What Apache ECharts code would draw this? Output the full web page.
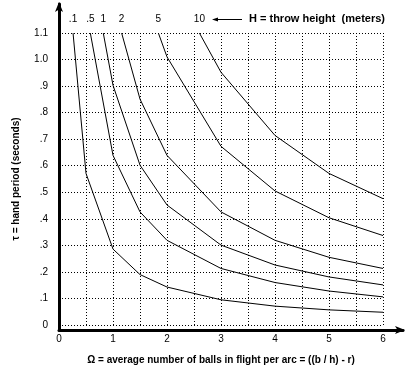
<!DOCTYPE html>
<html>
<head>
<meta charset="utf-8">
<script src="https://cdn.jsdelivr.net/npm/echarts@6/dist/echarts.min.js"></script>
<style>
html,body{margin:0;padding:0;background:#fff;}
#c{width:413px;height:370px;}
</style>
</head>
<body>
<div id="c"></div>
<script>
// Throw heights (meters) — curve labels
const heightLabels = ['.1', '.5', '1', '2', '5', '10'];

// Omega (x) and tau (y) points for each throw height
const omegaH01 = [0.26, 0.5, 1, 1.5, 2, 3, 4, 5, 6];
const tauH01   = [1.1, 0.571, 0.286, 0.19, 0.143, 0.095, 0.071, 0.057, 0.048];

const omegaH05 = [0.58, 1, 1.5, 2, 3, 4, 5, 6];
const tauH05   = [1.1, 0.639, 0.426, 0.319, 0.213, 0.16, 0.128, 0.106];

const omegaH1 = [0.82, 1, 1.5, 2, 3, 4, 5, 6];
const tauH1   = [1.1, 0.903, 0.602, 0.452, 0.301, 0.226, 0.181, 0.151];

const omegaH2 = [1.16, 1.5, 2, 3, 4, 5, 6];
const tauH2   = [1.1, 0.851, 0.639, 0.426, 0.319, 0.255, 0.213];

const omegaH5 = [1.84, 2, 3, 4, 5, 6];
const tauH5   = [1.1, 1.01, 0.673, 0.505, 0.404, 0.337];

const omegaH10 = [2.6, 3, 4, 5, 6];
const tauH10   = [1.1, 0.952, 0.714, 0.571, 0.476];

// Tick labels
const xTickValues = [0, 1, 2, 3, 4, 5, 6];
const xTickLabels = ['0', '1', '2', '3', '4', '5', '6'];
const yTickValues = [0, 0.1, 0.2, 0.3, 0.4, 0.5, 0.6, 0.7, 0.8, 0.9, 1.0, 1.1];
const yTickLabels = ['0', '.1', '.2', '.3', '.4', '.5', '.6', '.7', '.8', '.9', '1.0', '1.1'];

const xTitle = 'Ω = average number of balls in flight per arc = ((b / h) - r)';
const yTitle = 'τ = hand period (seconds)';
const legendText = 'H = throw height  (meters)';

const curves = [
  [omegaH01, tauH01], [omegaH05, tauH05], [omegaH1, tauH1],
  [omegaH2, tauH2], [omegaH5, tauH5], [omegaH10, tauH10]
];

const FONT = '"Liberation Sans Narrow", "Liberation Sans", Arial, sans-serif';
const PLAIN = '"Liberation Sans", Arial, sans-serif';

function lookup(vals, labels, v) {
  for (let i = 0; i < vals.length; i++) {
    if (Math.abs(vals[i] - v) < 1e-6) return labels[i];
  }
  return '';
}

const series = curves.map((c, i) => ({
  type: 'line',
  xAxisIndex: 0, yAxisIndex: 0,
  showSymbol: true,
  symbol: 'circle',
  symbolSize: 0,
  silent: true,
  lineStyle: { color: '#000', width: 1 },
  itemStyle: { color: '#000' },
  label: { show: false },
  data: c[0].map((x, j) => {
    const item = { value: [x, c[1][j]] };
    if (j === 0) {
      item.label = {
        show: true, position: 'top', distance: 9,
        formatter: heightLabels[i],
        color: '#000', fontSize: 10, fontFamily: PLAIN
      };
    }
    return item;
  })
}));

const dotted = { color: '#000', type: [1, 2], width: 1 };

const chart = echarts.init(document.getElementById('c'), null, { renderer: 'canvas' });
chart.setOption({
  animation: false,
  backgroundColor: '#fff',
  grid: [
    { left: 59, right: 30, top: 33, bottom: 40 },
    { left: 59, right: 10, top: 4, bottom: 40 }
  ],
  xAxis: [
    {
      gridIndex: 0, type: 'value', min: 0, max: 6, interval: 0.5,
      axisLine: { show: false }, axisTick: { show: false },
      splitLine: { show: true, lineStyle: dotted },
      axisLabel: {
        margin: 9, color: '#000', fontSize: 10, fontFamily: PLAIN,
        formatter: v => lookup(xTickValues, xTickLabels, v)
      },
      name: xTitle, nameLocation: 'middle', nameGap: 30,
      nameTextStyle: { color: '#000', fontSize: 10, fontWeight: 'bold', fontFamily: FONT }
    },
    {
      gridIndex: 1, type: 'value', min: 0, max: 1,
      axisLine: { show: true, symbol: ['none', 'arrow'], symbolSize: [6, 10], symbolOffset: [0, 2],
        lineStyle: { color: '#000', width: 3 } },
      axisTick: { show: false }, axisLabel: { show: false }, splitLine: { show: false }
    }
  ],
  yAxis: [
    {
      gridIndex: 0, type: 'value', min: 0, max: 1.1, interval: 0.1,
      axisLine: { show: false }, axisTick: { show: false },
      splitLine: { show: true, lineStyle: dotted },
      axisLabel: {
        margin: 11, color: '#000', fontSize: 10, fontFamily: PLAIN,
        formatter: v => lookup(yTickValues, yTickLabels, v)
      },
      name: yTitle, nameLocation: 'middle', nameGap: 38, nameRotate: 90,
      nameTextStyle: { color: '#000', fontSize: 10, fontWeight: 'bold', fontFamily: FONT }
    },
    {
      gridIndex: 1, type: 'value', min: 0, max: 1,
      axisLine: { show: true, symbol: ['none', 'arrow'], symbolSize: [6, 10], symbolOffset: [0, 2],
        lineStyle: { color: '#000', width: 3 } },
      axisTick: { show: false }, axisLabel: { show: false }, splitLine: { show: false }
    }
  ],
  graphic: [
    { type: 'line', shape: { x1: 216, y1: 19.5, x2: 242, y2: 19.5 }, style: { stroke: '#000', lineWidth: 1 } },
    { type: 'polygon', shape: { points: [[212, 19.5], [218, 17.5], [218, 21.5]] }, style: { fill: '#000' } },
    { type: 'text', left: 249, top: 13,
      style: { text: legendText, fill: '#000', font: 'bold 11px ' + FONT } }
  ],
  series: series
});
</script>
</body>
</html>
